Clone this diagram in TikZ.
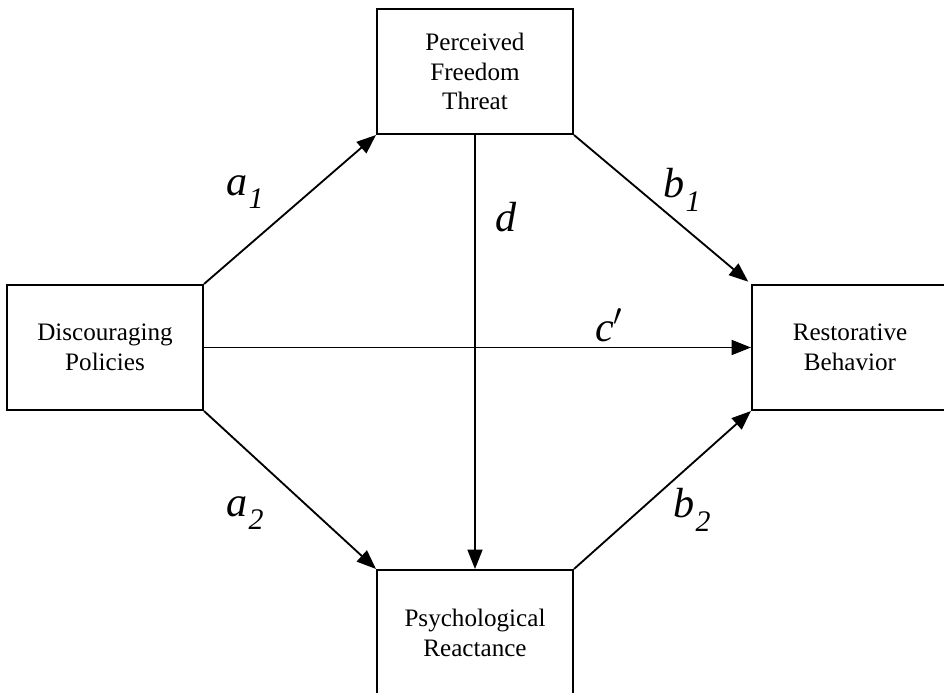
\documentclass[tikz,border=0pt]{standalone}
\usepackage{fontspec}
\setmainfont{Liberation Serif}
\usepackage{tikz}
\usetikzlibrary{positioning, arrows.meta}

\newcommand{\pathlbl}[2]{\textit{#1}\kern0.5pt\raisebox{-0.32em}{\fontsize{17}{17}\selectfont\itshape #2}}

\begin{document}
\begin{tikzpicture}[
    x=0.02cm, y=-0.02cm,
    box/.style={draw, line width=1.2pt, minimum width=3.92cm, minimum height=2.5cm,
                align=center, inner sep=0pt, font=\fontsize{14.3}{17}\selectfont},
    arrow/.style={-{Triangle[length=11pt, width=8.5pt]}, line width=1.05pt},
    lbl/.style={font=\fontsize{24}{24}\selectfont},
]
\useasboundingbox (0,0) rectangle (944,693);
\clip (0,0) rectangle (944,693);

% --- the four constructs ---
\node[box] (threat)  at (475,71.5)  {Perceived\\ Freedom\\ Threat};
\node[box] (policy)  at (105,347.5) {Discouraging\\ Policies};
\node[box] (behav)   at (850,347.5) {Restorative\\ Behavior};
\node[box] (react)   at (475,632.5) {Psychological\\ Reactance};

% --- paths ---
\draw[arrow] (policy.north east) -- (threat.south west);
\draw[arrow, shorten >=2pt] (threat.south east) -- (behav.north west);
\draw[arrow] (threat.south) -- (react.north);
\draw[arrow] (policy.east) -- (behav.west);
\draw[arrow] (policy.south east) -- (react.north west);
\draw[arrow] (react.north east) -- (behav.south west);

% --- path labels ---
\node[lbl] (la1) at (245,192) {\pathlbl{a}{1}};
\node[lbl] (lb1) at (682,190) {\pathlbl{b}{1}};
\node[lbl] (ld)  at (506,217) {\textit{d}};
\node[lbl] (lc)  at (609,325) {\textit{c}$'$};
\node[lbl] (la2) at (245,513) {\pathlbl{a}{2}};
\node[lbl] (lb2) at (692,510) {\pathlbl{b}{2}};
\end{tikzpicture}
\end{document}
